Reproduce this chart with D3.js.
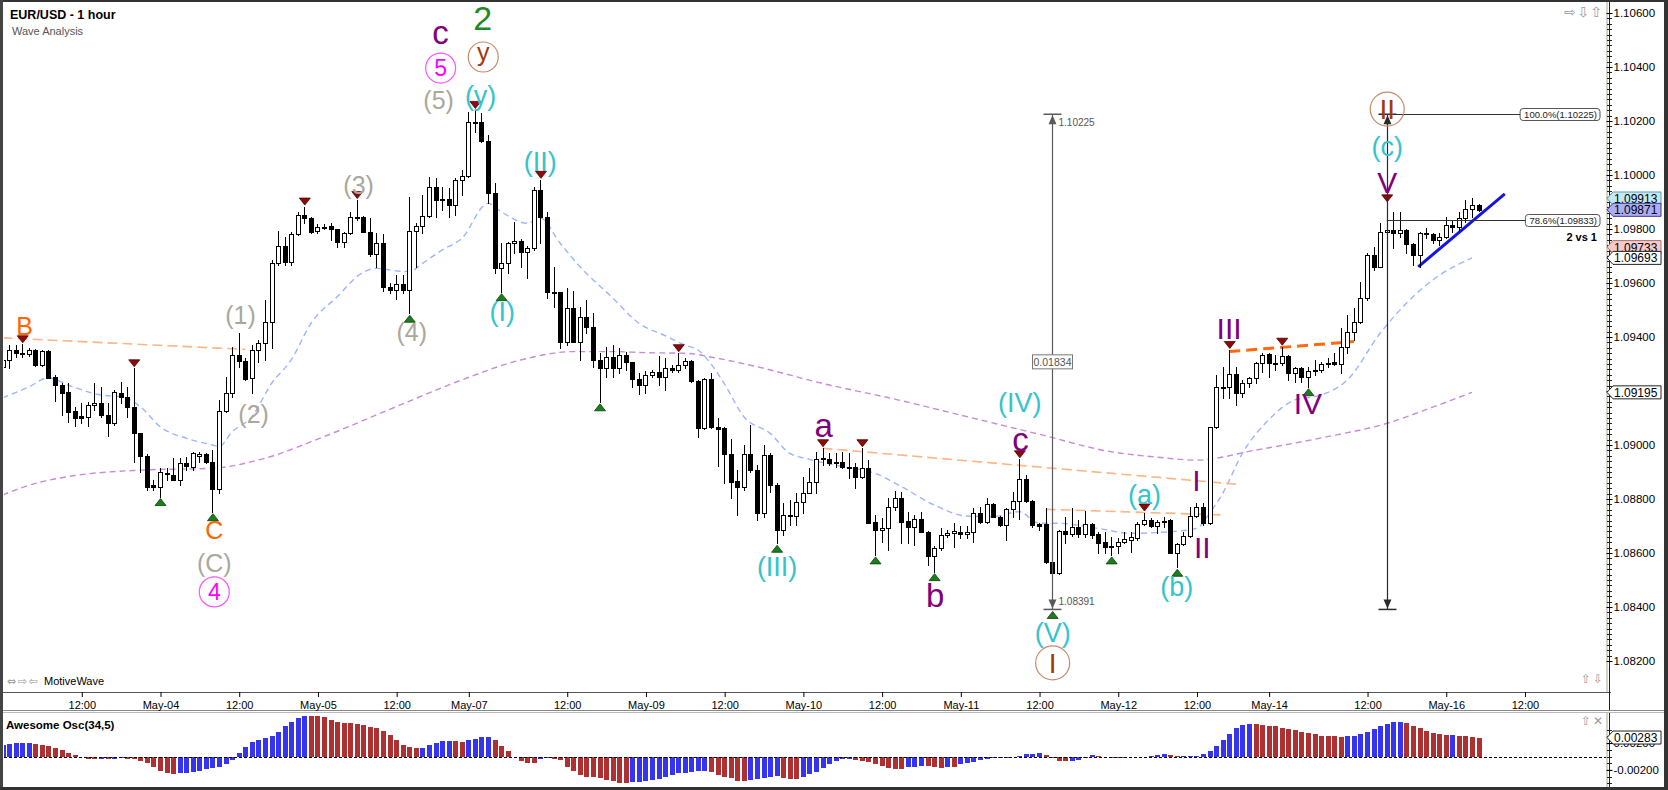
<!DOCTYPE html>
<html><head><meta charset="utf-8">
<script src="https://cdn.jsdelivr.net/npm/d3@7"></script>
<style>
body{margin:0;background:#fff;overflow:hidden}
svg{display:block}
text{font-family:"Liberation Sans",Arial,sans-serif}
</style></head>
<body><svg id="c" width="1668" height="790"></svg>
<script>
// ---------------- DATA ----------------
// hourly candles [open, high, low, close], index 0 = May-03 00:00
const ohlc = [
[1.09290,1.09340,1.09253,1.09315],[1.09315,1.09370,1.09284,1.09352],[1.09352,1.09370,1.09327,1.09340],[1.09340,1.09373,1.09327,1.09338],
[1.09338,1.09358,1.09330,1.09352],[1.09352,1.09354,1.09293,1.09296],[1.09296,1.09352,1.09293,1.09349],[1.09349,1.09352,1.09247,1.09249],
[1.09253,1.09259,1.09164,1.09222],[1.09222,1.09228,1.09111,1.09194],[1.09195,1.09228,1.09086,1.09123],[1.09126,1.09142,1.09070,1.09101],
[1.09108,1.09154,1.09080,1.09101],[1.09105,1.09161,1.09070,1.09147],[1.09147,1.09228,1.09130,1.09154],[1.09154,1.09216,1.09105,1.09111],
[1.09111,1.09154,1.09033,1.09080],[1.09080,1.09204,1.09074,1.09195],[1.09194,1.09234,1.09154,1.09179],[1.09179,1.09216,1.09105,1.09140],
[1.09140,1.09284,1.08936,1.09043],[1.09043,1.09045,1.08900,1.08961],[1.08961,1.08965,1.08833,1.08846],[1.08852,1.08870,1.08833,1.08843],
[1.08846,1.08914,1.08809,1.08899],[1.08898,1.08914,1.08870,1.08891],[1.08889,1.08951,1.08870,1.08870],[1.08870,1.08951,1.08852,1.08932],
[1.08932,1.08957,1.08907,1.08922],[1.08920,1.08975,1.08907,1.08972],[1.08960,1.08975,1.08938,1.08967],[1.08967,1.08972,1.08932,1.08936],
[1.08938,1.08981,1.08753,1.08837],[1.08837,1.09167,1.08821,1.09126],[1.09126,1.09253,1.09123,1.09191],[1.09191,1.09364,1.09179,1.09333],
[1.09333,1.09416,1.09290,1.09312],[1.09312,1.09321,1.09241,1.09244],[1.09247,1.09370,1.09191,1.09352],[1.09352,1.09389,1.09309,1.09376],
[1.09376,1.09537,1.09315,1.09457],[1.09457,1.09685,1.09358,1.09673],[1.09673,1.09794,1.09667,1.09738],[1.09738,1.09772,1.09667,1.09679],
[1.09679,1.09790,1.09667,1.09780],[1.09780,1.09864,1.09778,1.09852],[1.09852,1.09883,1.09821,1.09840],[1.09840,1.09846,1.09784,1.09790],
[1.09794,1.09818,1.09786,1.09809],[1.09809,1.09818,1.09799,1.09808],[1.09811,1.09821,1.09759,1.09799],[1.09799,1.09800,1.09735,1.09753],
[1.09753,1.09790,1.09735,1.09784],[1.09784,1.09864,1.09782,1.09846],[1.09846,1.09907,1.09833,1.09843],[1.09843,1.09849,1.09788,1.09790],
[1.09790,1.09840,1.09700,1.09707],[1.09707,1.09784,1.09661,1.09747],[1.09747,1.09782,1.09572,1.09587],[1.09587,1.09600,1.09562,1.09574],
[1.09574,1.09630,1.09540,1.09596],[1.09596,1.09630,1.09562,1.09574],[1.09574,1.09920,1.09488,1.09794],[1.09794,1.09821,1.09661,1.09811],
[1.09811,1.09926,1.09784,1.09848],[1.09848,1.09991,1.09843,1.09954],[1.09954,1.09988,1.09846,1.09907],[1.09907,1.09957,1.09870,1.09910],
[1.09910,1.09951,1.09843,1.09889],[1.09889,1.09988,1.09852,1.09981],[1.09981,1.10018,1.09926,1.09996],[1.09996,1.10235,1.09994,1.10198],
[1.10198,1.10241,1.10161,1.10195],[1.10195,1.10231,1.10123,1.10127],[1.10127,1.10148,1.09895,1.09932],[1.09932,1.09969,1.09636,1.09654],
[1.09654,1.09747,1.09568,1.09673],[1.09673,1.09753,1.09638,1.09749],[1.09749,1.09827,1.09710,1.09757],[1.09757,1.09762,1.09661,1.09716],
[1.09716,1.09737,1.09617,1.09728],[1.09728,1.09957,1.09722,1.09944],[1.09944,1.09982,1.09747,1.09846],[1.09846,1.09864,1.09543,1.09568],
[1.09568,1.09661,1.09512,1.09565],[1.09565,1.09568,1.09358,1.09383],[1.09383,1.09580,1.09370,1.09506],[1.09506,1.09572,1.09380,1.09383],
[1.09383,1.09512,1.09315,1.09475],[1.09475,1.09537,1.09414,1.09438],[1.09438,1.09488,1.09290,1.09315],[1.09315,1.09340,1.09160,1.09284],
[1.09284,1.09364,1.09253,1.09327],[1.09327,1.09370,1.09251,1.09287],[1.09287,1.09358,1.09265,1.09333],[1.09333,1.09346,1.09278,1.09306],
[1.09306,1.09309,1.09216,1.09244],[1.09244,1.09265,1.09189,1.09222],[1.09222,1.09274,1.09191,1.09259],[1.09259,1.09278,1.09253,1.09272],
[1.09272,1.09330,1.09222,1.09253],[1.09253,1.09321,1.09204,1.09287],[1.09287,1.09296,1.09272,1.09278],[1.09278,1.09340,1.09272,1.09296],
[1.09296,1.09321,1.09287,1.09312],[1.09312,1.09315,1.09235,1.09238],[1.09238,1.09241,1.09031,1.09062],[1.09062,1.09247,1.09059,1.09243],
[1.09243,1.09268,1.09062,1.09065],[1.09065,1.09099,1.08923,1.09058],[1.09062,1.09065,1.08858,1.08967],[1.08967,1.09021,1.08802,1.08864],
[1.08868,1.08907,1.08741,1.08846],[1.08846,1.09000,1.08833,1.08967],[1.08967,1.09074,1.08901,1.08907],[1.08907,1.08926,1.08722,1.08747],
[1.08747,1.09000,1.08735,1.08963],[1.08963,1.08969,1.08827,1.08852],[1.08852,1.08858,1.08636,1.08685],[1.08685,1.08784,1.08667,1.08741],
[1.08741,1.08796,1.08704,1.08738],[1.08738,1.08821,1.08704,1.08790],[1.08790,1.08883,1.08747,1.08824],[1.08824,1.08914,1.08821,1.08864],
[1.08864,1.08975,1.08824,1.08947],[1.08953,1.08988,1.08926,1.08947],[1.08950,1.08969,1.08926,1.08932],[1.08938,1.08969,1.08920,1.08935],
[1.08938,1.08975,1.08914,1.08917],[1.08920,1.08972,1.08876,1.08916],[1.08920,1.08932,1.08839,1.08883],[1.08883,1.08988,1.08877,1.08914],
[1.08914,1.08944,1.08710,1.08712],[1.08716,1.08741,1.08593,1.08685],[1.08685,1.08728,1.08642,1.08694],[1.08694,1.08802,1.08611,1.08769],
[1.08769,1.08831,1.08760,1.08802],[1.08802,1.08827,1.08636,1.08716],[1.08720,1.08753,1.08636,1.08697],[1.08697,1.08741,1.08630,1.08725],
[1.08725,1.08753,1.08676,1.08679],[1.08679,1.08682,1.08555,1.08589],[1.08589,1.08626,1.08531,1.08617],[1.08617,1.08691,1.08611,1.08667],
[1.08667,1.08685,1.08660,1.08673],[1.08673,1.08710,1.08624,1.08682],[1.08679,1.08701,1.08654,1.08670],[1.08669,1.08700,1.08654,1.08679],
[1.08679,1.08765,1.08642,1.08747],[1.08747,1.08772,1.08710,1.08716],[1.08716,1.08802,1.08710,1.08781],[1.08781,1.08784,1.08732,1.08735],
[1.08735,1.08737,1.08700,1.08704],[1.08704,1.08768,1.08648,1.08762],[1.08762,1.08827,1.08735,1.08794],[1.08794,1.08947,1.08725,1.08873],
[1.08873,1.08889,1.08790,1.08794],[1.08794,1.08797,1.08697,1.08704],[1.08707,1.08710,1.08685,1.08700],[1.08707,1.08765,1.08564,1.08568],
[1.08568,1.08571,1.08391,1.08525],[1.08525,1.08685,1.08522,1.08683],[1.08683,1.08735,1.08636,1.08670],[1.08670,1.08765,1.08664,1.08698],
[1.08698,1.08722,1.08660,1.08672],[1.08672,1.08757,1.08660,1.08707],[1.08707,1.08710,1.08654,1.08667],[1.08670,1.08679,1.08601,1.08636],
[1.08639,1.08679,1.08599,1.08621],[1.08621,1.08660,1.08593,1.08626],[1.08626,1.08654,1.08599,1.08642],[1.08642,1.08679,1.08636,1.08651],
[1.08648,1.08679,1.08605,1.08658],[1.08654,1.08716,1.08648,1.08707],[1.08707,1.08750,1.08704,1.08722],[1.08722,1.08728,1.08698,1.08700],
[1.08700,1.08722,1.08673,1.08716],[1.08716,1.08732,1.08698,1.08719],[1.08722,1.08725,1.08599,1.08601],[1.08601,1.08638,1.08547,1.08633],
[1.08633,1.08679,1.08630,1.08663],[1.08663,1.08772,1.08660,1.08737],[1.08737,1.08787,1.08735,1.08769],[1.08769,1.08784,1.08704,1.08710],
[1.08710,1.09068,1.08707,1.09065],[1.09065,1.09259,1.09062,1.09216],[1.09216,1.09290,1.09173,1.09213],[1.09213,1.09352,1.09173,1.09262],
[1.09262,1.09290,1.09148,1.09191],[1.09191,1.09241,1.09179,1.09228],[1.09228,1.09253,1.09216,1.09247],[1.09247,1.09309,1.09228,1.09302],
[1.09302,1.09340,1.09272,1.09333],[1.09336,1.09340,1.09253,1.09302],[1.09302,1.09333,1.09278,1.09305],[1.09305,1.09364,1.09296,1.09330],
[1.09330,1.09333,1.09241,1.09265],[1.09265,1.09290,1.09234,1.09284],[1.09284,1.09290,1.09235,1.09251],[1.09251,1.09290,1.09216,1.09275],
[1.09275,1.09315,1.09259,1.09278],[1.09278,1.09309,1.09271,1.09300],[1.09300,1.09321,1.09290,1.09303],[1.09306,1.09340,1.09296,1.09300],
[1.09300,1.09432,1.09265,1.09362],[1.09362,1.09481,1.09340,1.09420],[1.09420,1.09506,1.09389,1.09457],[1.09457,1.09605,1.09451,1.09543],
[1.09543,1.09710,1.09537,1.09704],[1.09704,1.09735,1.09648,1.09661],[1.09661,1.09823,1.09658,1.09790],[1.09790,1.09895,1.09770,1.09796],
[1.09796,1.09864,1.09728,1.09786],[1.09786,1.09864,1.09772,1.09796],[1.09796,1.09799,1.09710,1.09744],[1.09744,1.09750,1.09667,1.09704],
[1.09704,1.09790,1.09661,1.09784],[1.09784,1.09802,1.09765,1.09781],[1.09781,1.09784,1.09747,1.09759],[1.09759,1.09784,1.09741,1.09769],
[1.09769,1.09846,1.09765,1.09815],[1.09815,1.09833,1.09790,1.09806],[1.09806,1.09864,1.09796,1.09840],[1.09840,1.09907,1.09827,1.09873],
[1.09873,1.09913,1.09846,1.09889],[1.09889,1.09892,1.09866,1.09871]
];

// Awesome Oscillator (34,5), in pips (x 0.0001)
const aoPips = [
17.5,18.9,19.6,19.9,20.1,18.9,17.4,15.9,12.4,9.0,5.0,1.5,-0.3,-3.0,-3.6,-3.4,-3.8,-3.2,-2.6,-3.5,
-4.0,-6.0,-10,-16,-21,-25,-26.5,-25,-24,-22.5,-21,-19,-17.5,-15,-11,-5,5,14,21,25,
27,30,37,45,52,57,60.5,60.4,60.3,59.5,54.5,52,50.5,49.5,48.5,47,44.5,42,38.8,32.3,
23.9,17.4,13.9,12.4,13.4,17.4,19.9,22.4,23.4,22.4,22.3,24.9,26.4,28.4,28.9,24.9,15.9,7.5,-0.5,-6,
-9,-10,-4,-2.5,-3,-5,-16,-21,-27,-30,-31,-32,-35,-37,-39,-39.5,-38.5,-37.5,-36.5,-35,
-33.5,-30,-27.5,-25,-24,-22.5,-21.5,-21,-22.5,-27,-30,-32,-36,-37,-35.5,-34,-32.5,-30,-29.5,-32,
-33,-33.2,-30,-26,-22.5,-17.5,-11,-6.5,-3.5,-3.2,-5,-6,-7.5,-11,-14,-17.4,-18.4,-18.9,-16,-15,
-14,-14.5,-16,-16.5,-15.5,-16,-11.4,-9,-7.5,-5,-4,-2.5,-2,-1.5,-0.5,0.3,3,3.5,5,2,
-2.5,-6.5,-6.6,-6,-5,-1.5,1.5,0.5,-1,-1.5,-2.5,-1.5,-1,-1.3,-1.4,1,1.5,3,2,0.5,
0.6,0.7,1,3,7.5,16,25,34,42,47,49,48.5,47.5,46,45,43,41,40,37,35,
34,31,30.8,30,29.8,30,31,34,37,41,45,48,51,51.5,50,46,42,38,35,33,
32.5,32.6,31,30,29,28.3
];

// moving averages: [candle index, price]
const fastMA = [[0,1.09175],[4,1.09215],[7,1.09249],[10,1.09222],[15,1.09185],[18,1.09179],[21,1.09142],[24,1.09068],
[28,1.09025],[32,1.09000],[33,1.08994],[35,1.09049],[38,1.09105],[41,1.09228],[44,1.09315],[47,1.09450],[51,1.09549],
[55,1.09640],[57,1.09654],[60,1.09645],[62,1.09642],[64,1.09673],[67,1.09722],[70,1.09765],[74,1.09895],[76,1.09864],
[80,1.09821],[82,1.09840],[85,1.09747],[88,1.09661],[93,1.09545],[97,1.09451],[101,1.09405],[104,1.09370],[106,1.09352],
[108,1.09300],[110,1.09228],[113,1.09105],[117,1.09043],[120,1.08969],[123,1.08947],[128,1.08920],[133,1.08895],[137,1.08846],
[142,1.08778],[147,1.08737],[151,1.08735],[155,1.08753],[158,1.08710],[161,1.08710],[167,1.08691],[172,1.08673],[178,1.08679],
[182,1.08691],[184,1.08747],[186,1.08821],[189,1.08969],[193,1.09093],[197,1.09167],[201,1.09185],[205,1.09241],[210,1.09414],
[214,1.09525],[218,1.09611],[224,1.09693]];
const slowMA = [[0,1.08815],[5,1.08858],[10,1.08883],[21,1.08907],[32,1.08914],[40,1.08951],[49,1.09031],[60,1.09142],
[70,1.09241],[79,1.09315],[87,1.09346],[93,1.09346],[98,1.09342],[104,1.09340],[109,1.09321],[115,1.09290],[125,1.09228],
[136,1.09170],[147,1.09105],[158,1.09040],[169,1.08975],[176,1.08955],[182,1.08944],[191,1.08981],[202,1.09031],[211,1.09080],
[218,1.09140],[224,1.09195]];

// trend lines [[index, price],[index, price]]
const thinTrends = [[[0,1.09397],[37,1.09354]],[[125,1.08988],[188,1.08855]],[[159,1.08762],[186,1.08741]]];
const boldTrend = [[187,1.09346],[206,1.09383]];
const supportLine = [[215.8,1.09660],[229,1.09930]];

// swing markers (candle index)
const highMarks = [3,20,46,54,72,82,103,125,131,155,174,187,195,211];
const lowMarks = [24,32,62,76,91,118,133,142,160,169,179,199];

// measurement / fibonacci
const measureLow = 1.08391, measureHigh = 1.10225, measureIdx = 160, projIdx = 211;
const fibLevels = [["100.0%",1.10225],["78.6%",1.09833]];

// axis ticks
const timeTicks = [[12,"12:00"],[24,"May-04"],[36,"12:00"],[48,"May-05"],[60,"12:00"],[71,"May-07"],[86,"12:00"],
[98,"May-09"],[110,"12:00"],[122,"May-10"],[134,"12:00"],[146,"May-11"],[158,"12:00"],[170,"May-12"],[182,"12:00"],
[193,"May-14"],[208,"12:00"],[220,"May-16"],[232,"12:00"]];
const priceTicks = [1.082,1.084,1.086,1.088,1.090,1.092,1.094,1.096,1.098,1.100,1.102,1.104,1.106];
const aoTicks = [20,-20];
const priceTags = [[1.09913,"cyan"],[1.09871,"lav"],[1.09733,"pink"],[1.09693,"white"],[1.09195,"white"]];

// wave labels [text, index, price, degree]
const waveLabels = [
["2",73.1,1.10581,"green"],["c",66.7,1.10519,"minor"],["(5)",66.4,1.10278,"gray"],["(y)",72.8,1.10296,"cyan"],
["(3)",54.2,1.09963,"gray"],["(II)",81.9,1.10048,"cyan"],["B",3.3,1.09441,"orange"],["C",32.2,1.08685,"orange"],
["(C)",32.2,1.08563,"gray"],["(1)",36.2,1.09481,"gray"],["(2)",38.2,1.09115,"gray"],["(4)",62.3,1.09419,"gray"],
["(I)",76.1,1.09493,"cyan"],["(III)",118,1.08548,"cyan"],["a",125.1,1.09063,"minor"],["b",142.1,1.08444,"minor"],
["c",155.1,1.09011,"minor"],["(IV)",155,1.09159,"cyan"],["(V)",160,1.08307,"cyan"],["(a)",174,1.08815,"cyan"],
["(b)",178.9,1.08474,"cyan"],["I",181.9,1.08870,"roman"],["II",182.8,1.08622,"roman"],["III",186.9,1.09430,"roman"],
["IV",198.9,1.09152,"roman"],["(c)",211,1.10104,"cyan"],["V",211,1.09974,"roman"]];
const circledLabels = [["5",66.7,1.10396,"magenta"],["y",73.2,1.10437,"brown"],["4",32.2,1.08456,"magenta"],
["I",160,1.08193,"brownBig"],["II",211,1.10244,"brownBig"]];

// ---------------- DRAW ----------------
const svg = d3.select("#c");
const x = d3.scaleLinear().domain([0,225]).range([2.56, 2.56+225*6.56]);
const y = d3.scaleLinear().domain([1.082,1.106]).range([661,13]);
const ya = d3.scaleLinear().domain([-20,20]).range([769.9,743.1]);

const defs = svg.append("defs");
defs.append("clipPath").attr("id","mc").append("rect").attr("x",4).attr("y",3).attr("width",1602).attr("height",688);
defs.append("clipPath").attr("id","ac").append("rect").attr("x",4).attr("y",713).attr("width",1602).attr("height",74);

svg.append("rect").attr("width",1668).attr("height",790).attr("fill","#fff");

const main = svg.append("g").attr("clip-path","url(#mc)");
const lin = d3.line().x(d=>x(d[0])).y(d=>y(d[1]));
const smooth = d3.line().x(d=>x(d[0])).y(d=>y(d[1])).curve(d3.curveMonotoneX);

main.append("path").datum(slowMA).attr("d",smooth).attr("fill","none").attr("stroke","#c98ad8").attr("stroke-width",1.4).attr("stroke-dasharray","6,4");
main.append("path").datum(fastMA).attr("d",smooth).attr("fill","none").attr("stroke","#9ab6ff").attr("stroke-width",1.4).attr("stroke-dasharray","6,4");
main.selectAll("path.tt").data(thinTrends).join("path").attr("class","tt").attr("d",lin)
  .attr("fill","none").attr("stroke","#ffb482").attr("stroke-width",1.6).attr("stroke-dasharray","10,5");
main.append("path").datum(boldTrend).attr("d",lin).attr("fill","none").attr("stroke","#ff6a10").attr("stroke-width",3).attr("stroke-dasharray","11,6");
main.append("path").datum(supportLine).attr("d",lin).attr("fill","none").attr("stroke","#1414e6").attr("stroke-width",3);

// candles
const cg = main.append("g").attr("shape-rendering","crispEdges");
const cx = i => Math.round(x(i));
cg.selectAll("line.wk").data(ohlc).join("line").attr("class","wk")
  .attr("x1",(d,i)=>cx(i)+0.5).attr("x2",(d,i)=>cx(i)+0.5)
  .attr("y1",d=>Math.round(y(d[1]))).attr("y2",d=>Math.round(y(d[2]))+1)
  .attr("stroke","#000").attr("stroke-width",1);
cg.selectAll("rect.bd").data(ohlc).join("rect").attr("class","bd")
  .attr("x",(d,i)=>cx(i)-1.5).attr("width",4)
  .attr("y",d=>Math.round(y(Math.max(d[0],d[3])))+0.5)
  .attr("height",d=>Math.max(1,Math.round(y(Math.min(d[0],d[3])))-Math.round(y(Math.max(d[0],d[3])))))
  .attr("fill",d=>d[3]>=d[0]?"#fff":"#000").attr("stroke","#000").attr("stroke-width",1);

// markers
main.selectAll("path.hm").data(highMarks).join("path").attr("class","hm")
  .attr("d",i=>{const px=x(i)+0.5, py=y(ohlc[i][1])-1.5; return `M${px-5.5},${py-7}L${px+5.5},${py-7}L${px},${py}Z`;})
  .attr("fill","#8e0a0a").attr("stroke","#4a0000").attr("stroke-width",0.8);
main.selectAll("path.lm").data(lowMarks).join("path").attr("class","lm")
  .attr("d",i=>{const px=x(i)+0.5, py=y(ohlc[i][2])+2; return `M${px-5.5},${py+7}L${px+5.5},${py+7}L${px},${py}Z`;})
  .attr("fill","#1d7d1d").attr("stroke","#0a400a").attr("stroke-width",0.8);

// measurement tool
function vArrow(g, i, top, bot, col, labels){
  const px = Math.round(x(i))+0.5, yt=y(top), yb=y(bot);
  g.append("line").attr("x1",px).attr("x2",px).attr("y1",yt).attr("y2",yb).attr("stroke",col).attr("stroke-width",1.2);
  g.append("line").attr("x1",px-9).attr("x2",px+9).attr("y1",yt).attr("y2",yt).attr("stroke",col).attr("stroke-width",1.5);
  g.append("line").attr("x1",px-9).attr("x2",px+9).attr("y1",yb).attr("y2",yb).attr("stroke",col).attr("stroke-width",1.5);
  g.append("path").attr("d",`M${px},${yt+1}L${px-4},${yt+10}L${px+4},${yt+10}Z`).attr("fill",col);
  g.append("path").attr("d",`M${px},${yb-1}L${px-4},${yb-10}L${px+4},${yb-10}Z`).attr("fill",col);
  if(labels){
    g.append("text").attr("x",px+6).attr("y",yt+12).text(top.toFixed(5)).attr("font-size",10).attr("fill","#555");
    g.append("text").attr("x",px+6).attr("y",yb-4).text(bot.toFixed(5)).attr("font-size",10).attr("fill","#555");
    const ym=(yt+yb)/2;
    g.append("rect").attr("x",px-20).attr("y",ym-7).attr("width",40).attr("height",14).attr("fill","#fff").attr("stroke","#777");
    g.append("text").attr("x",px).attr("y",ym+4).attr("text-anchor","middle").text((top-bot).toFixed(5)).attr("font-size",10.5).attr("fill","#555");
  }
}
const mg = svg.append("g");
vArrow(mg, measureIdx, measureHigh, measureLow, "#5a5a5a", true);
vArrow(mg, projIdx, measureHigh, measureLow, "#2a2a2a", false);

// fib levels
fibLevels.forEach((f,k)=>{
  const yy = Math.round(y(f[1]))+0.5;
  const txt = `${f[0]}(${f[1].toFixed(5)})`;
  const t = mg.append("text").attr("x",1597).attr("y",yy+3.5).attr("text-anchor","end").attr("font-size",9.5).attr("fill","#222").text(txt);
  const w = t.node().getComputedTextLength();
  const bx = 1597-w-4;
  mg.insert("rect","text").attr("x",bx).attr("y",yy-6).attr("width",w+7).attr("height",12).attr("rx",3).attr("fill","#fff").attr("stroke","#555");
  mg.append("line").attr("x1",x(projIdx)).attr("x2",bx).attr("y1",yy).attr("y2",yy).attr("stroke","#333").attr("stroke-width",1);
});
mg.append("text").attr("x",1597).attr("y",241).attr("text-anchor","end").attr("font-size",11).attr("font-weight","bold").text("2 vs 1");

// wave labels
const deg = {
  green:{c:"#1f8a1f",s:34}, minor:{c:"#800080",s:33}, roman:{c:"#800080",s:30},
  cyan:{c:"#33c4cc",s:27}, gray:{c:"#aca79b",s:25}, orange:{c:"#ff6600",s:25}
};
const lg = svg.append("g");
lg.selectAll("text.wl").data(waveLabels).join("text").attr("class","wl")
  .attr("x",d=>x(d[1])+0.5)
  .attr("y",d=>y(d[2]) + deg[d[3]].s*(/^[ac]$/.test(d[0])?0.27:0.35))
  .attr("text-anchor","middle").attr("font-size",d=>deg[d[3]].s).attr("fill",d=>deg[d[3]].c).text(d=>d[0]);
const cdeg = {
  magenta:{c:"#ff00ff",st:"#ff55ff",r:15,s:23}, brown:{c:"#a33a0c",st:"#c98a6a",r:15,s:25},
  brownBig:{c:"#a33a0c",st:"#c98a6a",r:17,s:28}
};
circledLabels.forEach(d=>{
  const st=cdeg[d[3]], px=x(d[1])+0.5, py=y(d[2]);
  lg.append("circle").attr("cx",px).attr("cy",py).attr("r",st.r).attr("fill","none").attr("stroke",st.st).attr("stroke-width",1.2);
  lg.append("text").attr("x",px).attr("y",py+st.s*(d[0]==="y"?0.16:0.36)).attr("text-anchor","middle")
    .attr("font-size",st.s).attr("fill",st.c).text(d[0]);
});

// AO panel
const ag = svg.append("g").attr("clip-path","url(#ac)").attr("shape-rendering","crispEdges");
ag.selectAll("rect").data(aoPips).join("rect")
  .attr("x",(d,i)=>Math.round(x(i))-2).attr("width",5)
  .attr("y",d=>Math.min(ya(0),ya(d))).attr("height",d=>Math.abs(ya(d)-ya(0)))
  .attr("fill",(d,i)=>(i===0||d>aoPips[i-1])?"#3434f2":"#ae3030");
svg.append("line").attr("x1",4).attr("x2",1606).attr("y1",Math.round(ya(0))+0.5).attr("y2",Math.round(ya(0))+0.5)
  .attr("stroke","#000").attr("stroke-dasharray","3,2");

// frames
const fr = svg.append("g").attr("shape-rendering","crispEdges");
fr.append("rect").attr("x",0).attr("y",0).attr("width",1668).attr("height",2).attr("fill","#333");
fr.append("rect").attr("x",0).attr("y",0).attr("width",3).attr("height",790).attr("fill","#444");
fr.append("rect").attr("x",1664).attr("y",0).attr("width",4).attr("height",790).attr("fill","#333");
fr.append("rect").attr("x",0).attr("y",787).attr("width",1668).attr("height",3).attr("fill","#333");
fr.append("line").attr("x1",3).attr("x2",1611).attr("y1",692.5).attr("y2",692.5).attr("stroke","#555").attr("stroke-width",1.5);
fr.append("line").attr("x1",3).attr("x2",1664).attr("y1",710.5).attr("y2",710.5).attr("stroke","#888");
fr.append("line").attr("x1",3).attr("x2",1664).attr("y1",712.5).attr("y2",712.5).attr("stroke","#bbb");
fr.append("line").attr("x1",1606.5).attr("x2",1606.5).attr("y1",2).attr("y2",692).attr("stroke","#d6d2c6").attr("stroke-width",2);
fr.append("line").attr("x1",1609.5).attr("x2",1609.5).attr("y1",2).attr("y2",710).attr("stroke","#222");
fr.append("line").attr("x1",1606.5).attr("x2",1606.5).attr("y1",713).attr("y2",787).attr("stroke","#d6d2c6").attr("stroke-width",2);
fr.append("line").attr("x1",1609.5).attr("x2",1609.5).attr("y1",713).attr("y2",787).attr("stroke","#222");

// axes
const minor = d3.range(0,121).map(k=>1.082+k*0.0002);
fr.selectAll("line.mn").data(minor).join("line").attr("class","mn")
  .attr("x1",1607).attr("x2",1612).attr("y1",d=>Math.round(y(d))+0.5).attr("y2",d=>Math.round(y(d))+0.5).attr("stroke","#222");
const yAxis = d3.axisRight(y).tickValues(priceTicks).tickSize(6).tickFormat(d=>d.toFixed(5));
const yg = svg.append("g").attr("transform","translate(1606.5,0)").call(yAxis);
yg.select(".domain").remove();
yg.selectAll("text").attr("font-size",11.5).attr("fill","#000").attr("x",7).style("font-family","'Liberation Sans',Arial,sans-serif");

const aAxis = d3.axisRight(ya).tickValues(aoTicks).tickSize(6).tickFormat(d=>(d/10000).toFixed(5));
const agx = svg.append("g").attr("transform","translate(1606.5,0)").call(aAxis);
agx.select(".domain").remove();
agx.selectAll("text").attr("font-size",11.5).attr("fill","#000").attr("x",7).style("font-family","'Liberation Sans',Arial,sans-serif");
fr.selectAll("line.amn").data(d3.range(-4,5)).join("line").attr("class","amn")
  .attr("x1",1607).attr("x2",1612).attr("y1",d=>Math.round(ya(d*10))+0.5).attr("y2",d=>Math.round(ya(d*10))+0.5).attr("stroke","#222");

const xAxis = d3.axisBottom(x).tickValues(timeTicks.map(d=>d[0])).tickSize(5).tickFormat((d,i)=>timeTicks[i][1]);
const xg = svg.append("g").attr("transform","translate(0.5,692)").call(xAxis);
xg.select(".domain").remove();
xg.selectAll("text").attr("font-size",11).attr("fill","#000").attr("y",9).style("font-family","'Liberation Sans',Arial,sans-serif");

// price tags
const tagSt = {cyan:["#c4e8f2","#5b9fb3"],lav:["#acaef2","#3a3a9a"],pink:["#f6caca","#b07070"],white:["#fff","#222"]};
function tag(yy, txt, kind){
  const s=tagSt[kind];
  svg.append("path").attr("d",`M1607,${yy}L1613,${yy-6.5}L1661,${yy-6.5}L1661,${yy+6.5}L1613,${yy+6.5}Z`)
    .attr("fill",s[0]).attr("stroke",s[1]).attr("stroke-width",1);
  svg.append("text").attr("x",1614).attr("y",yy+4.5).attr("font-size",12).attr("fill","#000").text(txt);
}
priceTags.forEach(t=>tag(y(t[0]), t[0].toFixed(5), t[1]));
tag(ya(aoPips[aoPips.length-1]), (aoPips[aoPips.length-1]/10000).toFixed(5), "white");

// titles & misc text
svg.append("text").attr("x",10).attr("y",19).attr("font-size",12.5).attr("font-weight","bold").text("EUR/USD - 1 hour");
svg.append("text").attr("x",12).attr("y",35).attr("font-size",11).attr("fill","#555").text("Wave Analysis");
svg.append("text").attr("x",6).attr("y",729).attr("font-size",11.5).attr("font-weight","bold").text("Awesome Osc(34,5)");
svg.append("text").attr("x",44).attr("y",685).attr("font-size",11).attr("fill","#000").text("MotiveWave");
// small toolbar glyphs, one per text element
function icons(chars, xRight, yBase, size, step){
  chars.forEach((ch,k)=>{
    svg.append("text").attr("x",xRight-(chars.length-1-k)*step).attr("y",yBase).attr("text-anchor","end")
      .attr("font-size",size).attr("fill","#999").style("font-family","'DejaVu Sans'").text(ch);
  });
}
icons(["⇔","⇨","⇦"], 38, 685, 11, 11);
icons(["⇨","⇩","⇧"], 1602, 17, 14, 13);
icons(["⇧","⇩"], 1603, 683, 12, 12);
icons(["⇧","✕"], 1603, 725, 12, 12);
</script>
</body></html>
